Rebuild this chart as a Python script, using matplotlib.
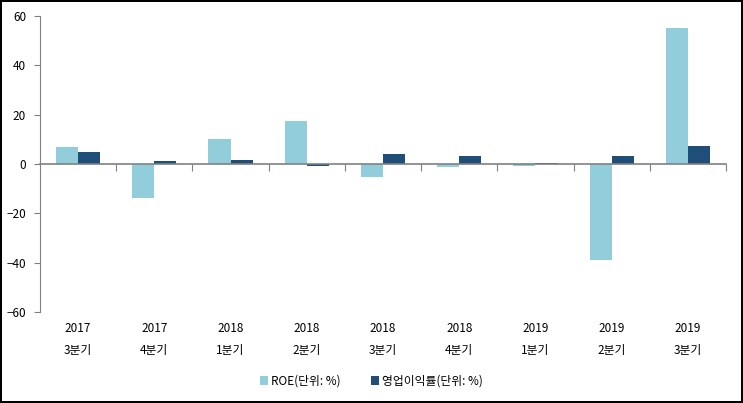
import numpy as np
import matplotlib.pyplot as plt
from matplotlib.transforms import blended_transform_factory

plt.rcParams['font.family'] = ['Noto Sans CJK KR', 'DejaVu Sans']

# data
years = ['2017', '2017', '2018', '2018', '2018', '2018', '2019', '2019', '2019']
quarters = ['3분기', '4분기', '1분기', '2분기', '3분기', '4분기', '1분기', '2분기', '3분기']
roe = [6.9, -13.8, 10.1, 17.4, -5.3, -1.2, -0.7, -38.9, 55.1]
op_margin = [4.9, 1.2, 1.6, -0.7, 4.1, 3.3, 0.4, 3.3, 7.3]

fig = plt.figure(figsize=(7.43, 4.03), dpi=100)
fig.patch.set_edgecolor('black')
fig.patch.set_linewidth(1.5)
ax = fig.add_axes([40 / 743, 1 - 312 / 403, 686 / 743, 296 / 403])

x = np.arange(len(years))
w = 0.29
ax.bar(x - w / 2, roe, w, color='#92CDDC', label='ROE(단위: %)')
ax.bar(x + w / 2, op_margin, w, color='#1F4E79', label='영업이익률(단위: %)')

ax.set_xlim(-0.5, len(years) - 0.5)
ax.set_ylim(-60, 60)
ax.set_yticks(np.arange(-60, 61, 20))

for s in ['top', 'right']:
    ax.spines[s].set_visible(False)
ax.spines['left'].set_color('#808080')
ax.spines['bottom'].set_color('#808080')
ax.spines['bottom'].set_linewidth(1.2)
ax.spines['bottom'].set_position(('data', 0))
ax.set_xticks(np.arange(0.5, len(years) + 0.5, 1))
ax.set_xticklabels([])
ax.tick_params(axis='x', length=5, color='#808080', direction='out')
ax.tick_params(axis='y', length=4, color='#808080', labelsize=8.5, pad=6)

trans = blended_transform_factory(ax.transData, ax.transAxes)
for i in x:
    ax.text(i, -0.055, years[i], transform=trans, ha='center', va='center', fontsize=8.5)
    ax.text(i, -0.13, quarters[i], transform=trans, ha='center', va='center', fontsize=8.5)

fig.legend(loc='center', bbox_to_anchor=(0.5, 1 - 381 / 403), ncol=2, frameon=False,
           fontsize=8.5, handlelength=0.7, handleheight=0.7, handletextpad=0.3,
           columnspacing=2.5)

fig.savefig('out.png', dpi=100)
